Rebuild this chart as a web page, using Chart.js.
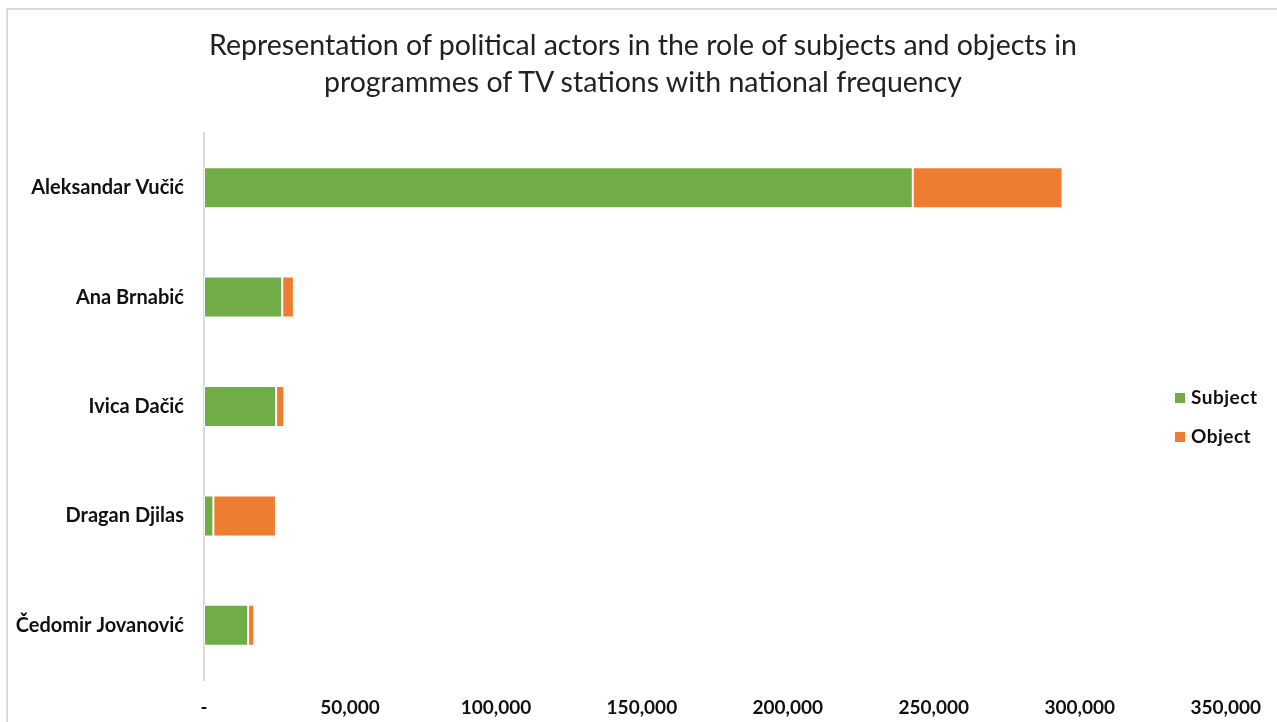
<!DOCTYPE html>
<html>
<head>
<meta charset="utf-8">
<script src="https://cdn.jsdelivr.net/npm/chart.js@4"></script>
<style>
  html, body { margin: 0; padding: 0; background: #fff; }
  #wrap { position: relative; width: 1277px; height: 722px; overflow: hidden; }
  #frame { position: absolute; left: 6px; top: 8px; width: 1300px; height: 740px;
    border-left: 2px solid #d9d9d9; border-top: 2px solid #d9d9d9; pointer-events: none; }
  #title { position: absolute; left: 143px; top: 26px; width: 1000px; text-align: center;
    font-family: Lato, "Open Sans", sans-serif; font-size: 28.5px; line-height: 37px; color: #222; }
  #legend { position: absolute; left: 1175px; top: 385px; font-family: Lato, "Open Sans", sans-serif;
    font-weight: bold; font-size: 19px; letter-spacing: 0.5px; color: #111; }
  #legend div { height: 39px; display: flex; align-items: flex-start; }
  #legend span.box { display: inline-block; width: 10px; height: 10px; margin: 8px 6px 0 0; }
</style>
</head>
<body>
<div id="wrap">
  <canvas id="actorsChart" width="1277" height="722"></canvas>
  <div id="frame"></div>
  <div id="title"></div>
  <div id="legend"></div>
</div>
<script>
const titleLines = [
  "Representation of political actors in the role of subjects and objects in",
  "programmes of TV stations with national frequency",
];
const actors = ["Aleksandar Vučić", "Ana Brnabić", "Ivica Dačić", "Dragan Djilas", "Čedomir Jovanović"];
const subjectValues = [242800, 26800, 24700, 3200, 15100];
const objectValues = [51300, 4000, 2850, 21450, 2150];
const seriesNames = ["Subject", "Object"];
const seriesColors = ["#70AD47", "#ED7D31"];
const xTicks = [0, 50000, 100000, 150000, 200000, 250000, 300000, 350000];

const ctx = document.getElementById("actorsChart");

new Chart(ctx, {
  type: "bar",
  data: {
    labels: actors,
    datasets: [subjectValues, objectValues].map((vals, i) => ({
      label: seriesNames[i],
      data: vals,
      backgroundColor: seriesColors[i],
      borderColor: "rgba(255,255,255,0.8)",
      borderWidth: 1,
      borderSkipped: false,
      barPercentage: 0.375,
      categoryPercentage: 1,
    })),
  },
  options: {
    indexAxis: "y",
    responsive: false,
    animation: false,
    layout: { padding: { left: 0, right: 51, top: 133, bottom: 0 } },
    plugins: {
      legend: { display: false },
      tooltip: { enabled: false },
      title: { display: false },
    },
    scales: {
      x: {
        stacked: true,
        min: 0,
        max: 350000,
        afterBuildTicks: (scale) => {
          scale.ticks = xTicks.map((v) => ({ value: v }));
        },
        afterFit: (scale) => {
          scale.height = 42;
        },
        ticks: {
          padding: 16,
          color: "#111",
          font: { family: "Lato, 'Open Sans', sans-serif", size: 19, weight: "bold" },
          callback: (v) => (v === 0 ? "-" : v.toLocaleString("en-US")),
        },
        grid: { display: false, drawTicks: false },
        border: { display: false },
      },
      y: {
        stacked: true,
        afterFit: (scale) => {
          scale.width = 204;
        },
        ticks: {
          padding: 20,
          color: "#111",
          font: { family: "Lato, 'Open Sans', sans-serif", size: 20, weight: "bold" },
        },
        grid: { display: false, drawTicks: false },
        border: { display: true, color: "#d9d9d9", width: 2 },
      },
    },
  },
});

document.getElementById("title").innerHTML = titleLines.join("<br>");

const legendEl = document.getElementById("legend");
seriesNames.forEach((name, i) => {
  const row = document.createElement("div");
  const box = document.createElement("span");
  box.className = "box";
  box.style.background = seriesColors[i];
  row.appendChild(box);
  row.appendChild(document.createTextNode(name));
  legendEl.appendChild(row);
});
</script>
</body>
</html>
